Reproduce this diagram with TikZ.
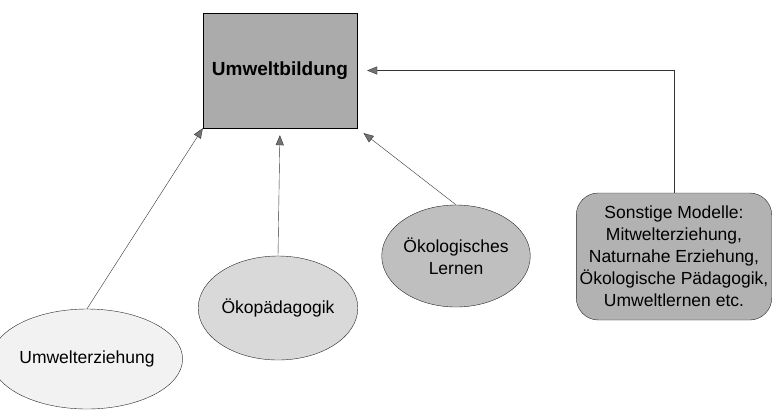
\documentclass[tikz,border=0pt]{standalone}
\usepackage{fontspec}
\setmainfont{Liberation Sans}
\usetikzlibrary{arrows.meta,shapes.geometric}

\tikzset{
  pfeil/.style={draw=black!80, thin, -{Triangle[length=10pt,width=8pt,fill=black!55]}},
  ovalbox/.style={ellipse, draw=black!85, thin, inner sep=0pt, align=center, font=\fontsize{17.5}{22}\selectfont},
}

\begin{document}
\begin{tikzpicture}[x=1pt,y=-1pt]
      \useasboundingbox (0,0) rectangle (773,410);

      \node[draw=black, fill=black!33, minimum width=154pt, minimum height=115pt,
            font=\fontsize{19}{23}\selectfont\bfseries] (bildung) at (280,70.5) {Umweltbildung};

      \node[ovalbox, fill=black!5, minimum width=154pt, minimum height=100pt] (umwelterz) at (87,359) {Umwelterziehung};
      \node[ovalbox, fill=black!15, minimum width=150pt, minimum height=104pt] (oekopaed) at (278,308) {Ökopädagogik};
      \node[ovalbox, fill=black!25, minimum width=146pt, minimum height=102pt] (oekolern) at (456,256) {Ökologisches\\Lernen};
      \node[draw=black!85, fill=black!30, rounded corners=22pt, minimum width=192pt, minimum height=127pt,
            align=center, font=\fontsize{17.5}{22}\selectfont] (sonstige) at (674,256.5)
            {Sonstige Modelle:\\Mitwelterziehung,\\Naturnahe Erziehung,\\Ökologische Pädagogik,\\Umweltlernen etc.};

      \draw[pfeil] (umwelterz.north) -- (bildung.south west);
      \draw[pfeil, shorten >=7pt] (oekopaed.north) -- (bildung.south);
      \draw[pfeil, shorten >=8pt] (oekolern.north) -- (bildung.south east);
      \draw[pfeil, shorten >=10pt] (sonstige.north) |- (bildung.east);

    \end{tikzpicture}
\end{document}
